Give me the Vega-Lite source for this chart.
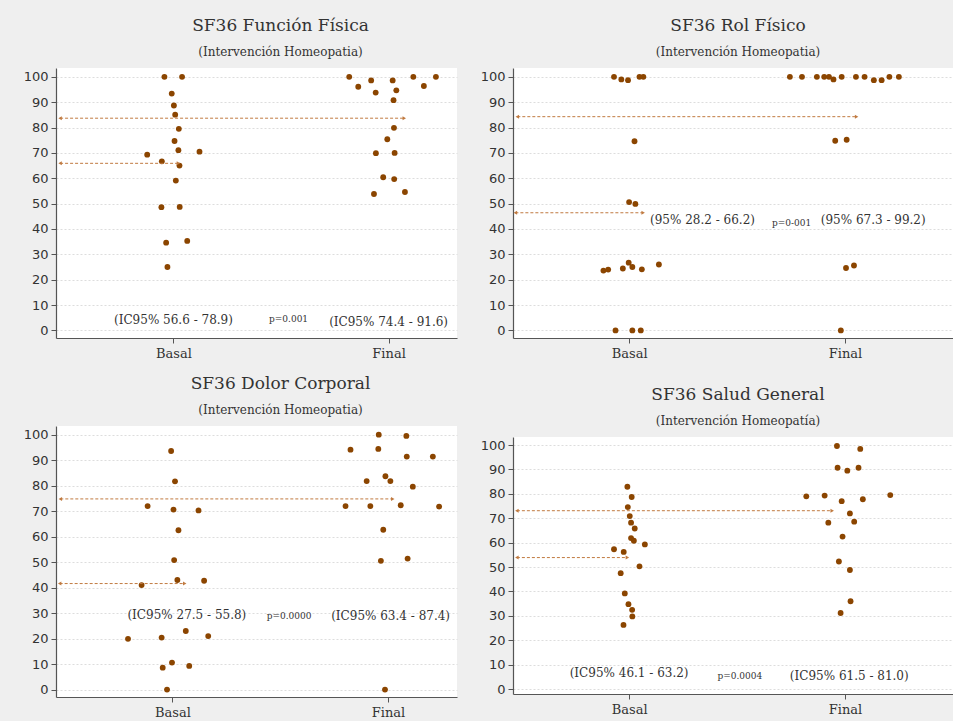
{
  "$schema": "https://vega.github.io/schema/vega-lite/v6.json",
  "background": "#efefef",
  "padding": {"left": 23, "top": 17, "right": 0, "bottom": 0},
  "config": {
    "view": {"fill": "white", "stroke": null},
    "axis": {"domainColor": "#555555", "tickColor": "#555555", "labelColor": "#333333", "tickSize": 5, "domainWidth": 1.2},
    "axisY": {"labelFont": "DejaVu Sans", "labelFontSize": 13, "gridDash": [2, 2], "gridColor": "#dddddd", "minExtent": 32, "maxExtent": 32, "labelPadding": 3},
    "axisX": {"grid": false, "labelFont": "DejaVu Serif", "labelFontSize": 13, "minExtent": 25, "maxExtent": 25, "labelPadding": 4},
    "title": {"font": "DejaVu Serif", "fontSize": 17, "fontWeight": "normal", "color": "#333333", "subtitleFont": "DejaVu Serif", "subtitleFontSize": 12, "subtitleColor": "#333333", "subtitlePadding": 12, "offset": 9}
  },
  "datasets": {
    "points": [
      {"p":"FF","g":"Basal","x":0.958,"y":100},{"p":"FF","g":"Basal","x":1.040,"y":100},{"p":"FF","g":"Basal","x":0.992,"y":93.4},{"p":"FF","g":"Basal","x":1.002,"y":88.7},{"p":"FF","g":"Basal","x":1.008,"y":85.1},{"p":"FF","g":"Basal","x":1.025,"y":79.5},{"p":"FF","g":"Basal","x":1.005,"y":74.7},{"p":"FF","g":"Basal","x":1.023,"y":71.1},{"p":"FF","g":"Basal","x":1.121,"y":70.5},{"p":"FF","g":"Basal","x":0.878,"y":69.3},{"p":"FF","g":"Basal","x":0.946,"y":66.7},{"p":"FF","g":"Basal","x":1.028,"y":65.0},{"p":"FF","g":"Basal","x":1.011,"y":59.1},{"p":"FF","g":"Basal","x":0.944,"y":48.6},{"p":"FF","g":"Basal","x":1.029,"y":48.7},{"p":"FF","g":"Basal","x":0.966,"y":34.6},{"p":"FF","g":"Basal","x":1.064,"y":35.3},{"p":"FF","g":"Basal","x":0.972,"y":25.0},
      {"p":"FF","g":"Final","x":1.817,"y":100},{"p":"FF","g":"Final","x":1.859,"y":96.1},{"p":"FF","g":"Final","x":1.919,"y":98.6},{"p":"FF","g":"Final","x":1.940,"y":93.8},{"p":"FF","g":"Final","x":2.019,"y":98.6},{"p":"FF","g":"Final","x":2.036,"y":94.7},{"p":"FF","g":"Final","x":2.023,"y":90.8},{"p":"FF","g":"Final","x":2.115,"y":100},{"p":"FF","g":"Final","x":2.164,"y":96.4},{"p":"FF","g":"Final","x":2.220,"y":100},{"p":"FF","g":"Final","x":2.025,"y":79.9},{"p":"FF","g":"Final","x":1.994,"y":75.4},{"p":"FF","g":"Final","x":1.941,"y":69.9},{"p":"FF","g":"Final","x":2.028,"y":70.0},{"p":"FF","g":"Final","x":1.975,"y":60.4},{"p":"FF","g":"Final","x":2.026,"y":59.7},{"p":"FF","g":"Final","x":1.932,"y":53.8},{"p":"FF","g":"Final","x":2.076,"y":54.6},
      {"p":"RF","g":"Basal","x":0.930,"y":100},{"p":"RF","g":"Basal","x":0.964,"y":99},{"p":"RF","g":"Basal","x":0.995,"y":98.7},{"p":"RF","g":"Basal","x":1.048,"y":100},{"p":"RF","g":"Basal","x":1.066,"y":100},{"p":"RF","g":"Basal","x":1.025,"y":74.6},{"p":"RF","g":"Basal","x":1.0,"y":50.6},{"p":"RF","g":"Basal","x":1.029,"y":49.9},{"p":"RF","g":"Basal","x":0.881,"y":23.6},{"p":"RF","g":"Basal","x":0.903,"y":24.0},{"p":"RF","g":"Basal","x":0.971,"y":24.4},{"p":"RF","g":"Basal","x":0.998,"y":26.7},{"p":"RF","g":"Basal","x":1.015,"y":25.0},{"p":"RF","g":"Basal","x":1.059,"y":24.1},{"p":"RF","g":"Basal","x":1.138,"y":26.0},{"p":"RF","g":"Basal","x":0.937,"y":0},{"p":"RF","g":"Basal","x":1.015,"y":0},{"p":"RF","g":"Basal","x":1.054,"y":0},
      {"p":"RF","g":"Final","x":1.745,"y":100},{"p":"RF","g":"Final","x":1.801,"y":100},{"p":"RF","g":"Final","x":1.870,"y":100},{"p":"RF","g":"Final","x":1.904,"y":100},{"p":"RF","g":"Final","x":1.926,"y":100},{"p":"RF","g":"Final","x":1.947,"y":99},{"p":"RF","g":"Final","x":1.985,"y":100},{"p":"RF","g":"Final","x":2.051,"y":100},{"p":"RF","g":"Final","x":2.091,"y":100},{"p":"RF","g":"Final","x":2.134,"y":98.7},{"p":"RF","g":"Final","x":2.170,"y":98.7},{"p":"RF","g":"Final","x":2.206,"y":100},{"p":"RF","g":"Final","x":2.250,"y":100},{"p":"RF","g":"Final","x":1.955,"y":74.8},{"p":"RF","g":"Final","x":2.008,"y":75.2},{"p":"RF","g":"Final","x":2.005,"y":24.6},{"p":"RF","g":"Final","x":2.042,"y":25.6},{"p":"RF","g":"Final","x":1.981,"y":0},
      {"p":"DC","g":"Basal","x":0.994,"y":93.6},{"p":"DC","g":"Basal","x":1.012,"y":81.7},{"p":"DC","g":"Basal","x":0.885,"y":72.0},{"p":"DC","g":"Basal","x":1.005,"y":70.6},{"p":"DC","g":"Basal","x":1.121,"y":70.3},{"p":"DC","g":"Basal","x":1.028,"y":62.5},{"p":"DC","g":"Basal","x":1.008,"y":50.8},{"p":"DC","g":"Basal","x":1.023,"y":43.0},{"p":"DC","g":"Basal","x":1.147,"y":42.7},{"p":"DC","g":"Basal","x":0.857,"y":41.0},{"p":"DC","g":"Basal","x":0.794,"y":19.9},{"p":"DC","g":"Basal","x":0.950,"y":20.4},{"p":"DC","g":"Basal","x":1.062,"y":23.0},{"p":"DC","g":"Basal","x":1.166,"y":21.0},{"p":"DC","g":"Basal","x":0.998,"y":10.6},{"p":"DC","g":"Basal","x":0.955,"y":8.6},{"p":"DC","g":"Basal","x":1.078,"y":9.3},{"p":"DC","g":"Basal","x":0.975,"y":0},
      {"p":"DC","g":"Final","x":1.957,"y":100},{"p":"DC","g":"Final","x":2.085,"y":99.5},{"p":"DC","g":"Final","x":1.826,"y":94.1},{"p":"DC","g":"Final","x":1.955,"y":94.4},{"p":"DC","g":"Final","x":2.087,"y":91.4},{"p":"DC","g":"Final","x":2.208,"y":91.4},{"p":"DC","g":"Final","x":1.901,"y":81.8},{"p":"DC","g":"Final","x":1.988,"y":83.7},{"p":"DC","g":"Final","x":2.011,"y":81.8},{"p":"DC","g":"Final","x":2.115,"y":79.6},{"p":"DC","g":"Final","x":1.803,"y":72.0},{"p":"DC","g":"Final","x":1.918,"y":72.0},{"p":"DC","g":"Final","x":2.059,"y":72.3},{"p":"DC","g":"Final","x":2.237,"y":71.8},{"p":"DC","g":"Final","x":1.978,"y":62.7},{"p":"DC","g":"Final","x":1.967,"y":50.5},{"p":"DC","g":"Final","x":2.091,"y":51.4},{"p":"DC","g":"Final","x":1.986,"y":0},
      {"p":"SG","g":"Basal","x":0.992,"y":82.9},{"p":"SG","g":"Basal","x":1.012,"y":78.7},{"p":"SG","g":"Basal","x":0.994,"y":74.6},{"p":"SG","g":"Basal","x":1.003,"y":70.9},{"p":"SG","g":"Basal","x":1.009,"y":68.2},{"p":"SG","g":"Basal","x":1.026,"y":65.8},{"p":"SG","g":"Basal","x":1.009,"y":61.9},{"p":"SG","g":"Basal","x":1.022,"y":60.8},{"p":"SG","g":"Basal","x":1.073,"y":59.3},{"p":"SG","g":"Basal","x":0.930,"y":57.3},{"p":"SG","g":"Basal","x":0.975,"y":56.2},{"p":"SG","g":"Basal","x":1.048,"y":50.3},{"p":"SG","g":"Basal","x":0.961,"y":47.5},{"p":"SG","g":"Basal","x":0.980,"y":39.2},{"p":"SG","g":"Basal","x":0.997,"y":34.8},{"p":"SG","g":"Basal","x":1.014,"y":32.5},{"p":"SG","g":"Basal","x":1.015,"y":29.8},{"p":"SG","g":"Basal","x":0.974,"y":26.3},
      {"p":"SG","g":"Final","x":1.963,"y":99.6},{"p":"SG","g":"Final","x":2.071,"y":98.4},{"p":"SG","g":"Final","x":1.966,"y":90.7},{"p":"SG","g":"Final","x":2.011,"y":89.5},{"p":"SG","g":"Final","x":2.063,"y":90.7},{"p":"SG","g":"Final","x":1.821,"y":79.0},{"p":"SG","g":"Final","x":1.906,"y":79.3},{"p":"SG","g":"Final","x":2.210,"y":79.5},{"p":"SG","g":"Final","x":2.083,"y":77.8},{"p":"SG","g":"Final","x":1.985,"y":77.0},{"p":"SG","g":"Final","x":2.023,"y":72.0},{"p":"SG","g":"Final","x":2.043,"y":68.6},{"p":"SG","g":"Final","x":1.923,"y":68.2},{"p":"SG","g":"Final","x":1.989,"y":62.5},{"p":"SG","g":"Final","x":1.972,"y":52.3},{"p":"SG","g":"Final","x":2.023,"y":48.8},{"p":"SG","g":"Final","x":2.026,"y":36.0},{"p":"SG","g":"Final","x":1.980,"y":31.2}
    ],
    "arrows": [
      {"p":"FF","y":83.7,"x1":0.473,"x2":2.073},{"p":"FF","y":65.9,"x1":0.473,"x2":1.023},
      {"p":"RF","y":84.3,"x1":0.482,"x2":2.054},{"p":"RF","y":46.4,"x1":0.473,"x2":1.065},
      {"p":"DC","y":74.8,"x1":0.480,"x2":2.022},{"p":"DC","y":41.6,"x1":0.477,"x2":1.057},
      {"p":"SG","y":73.1,"x1":0.480,"x2":1.941},{"p":"SG","y":53.9,"x1":0.480,"x2":0.992}
    ],
    "notes": [
      {"p":"FF","kind":"ic","x":1.0,"y":4.0,"label":"(IC95% 56.6 - 78.9)"},{"p":"FF","kind":"pv","x":1.535,"y":4.3,"label":"p=0.001"},{"p":"FF","kind":"ic","x":2.0,"y":3.2,"label":"(IC95% 74.4 - 91.6)"},
      {"p":"RF","kind":"ic","x":1.34,"y":43.7,"label":"(95% 28.2 - 66.2)"},{"p":"RF","kind":"pv","x":1.753,"y":42.4,"label":"p=0-001"},{"p":"RF","kind":"ic","x":2.131,"y":43.7,"label":"(95% 67.3 - 99.2)"},
      {"p":"DC","kind":"ic","x":1.067,"y":29.4,"label":"(IC95% 27.5 - 55.8)"},{"p":"DC","kind":"pv","x":1.541,"y":28.8,"label":"p=0.0000"},{"p":"DC","kind":"ic","x":2.012,"y":28.8,"label":"(IC95% 63.4 - 87.4)"},
      {"p":"SG","kind":"ic","x":1.0,"y":6.5,"label":"(IC95% 46.1 - 63.2)"},{"p":"SG","kind":"pv","x":1.513,"y":5.5,"label":"p=0.0004"},{"p":"SG","kind":"ic","x":2.02,"y":5.5,"label":"(IC95% 61.5 - 81.0)"}
    ]
  },
  "spacing": 23,
  "hconcat": [
    {
      "spacing": 12,
      "vconcat": [
        {
          "title": {"text": "SF36 Función Física", "subtitle": "(Intervención Homeopatia)", "dx": 24},
          "width": 401, "height": 270,
          "encoding": {
            "x": {"field": "x", "type": "quantitative", "title": null, "scale": {"domain": [0.454, 2.318], "nice": false, "zero": false}, "axis": {"values": [1, 2], "labelExpr": "datum.value == 1 ? 'Basal' : 'Final'"}},
            "y": {"field": "y", "type": "quantitative", "title": null, "scale": {"domain": [-3, 103.5], "nice": false, "zero": false}, "axis": {"values": [0,10,20,30,40,50,60,70,80,90,100]}}
          },
          "layer": [
            {"data": {"name": "points"}, "transform": [{"filter": "datum.p == 'FF'"}], "mark": {"type": "point", "shape": "circle", "filled": true, "size": 34, "color": "#8b4500", "opacity": 1}},
            {"data": {"name": "arrows"}, "transform": [{"filter": "datum.p == 'FF'"}], "mark": {"type": "rule", "strokeDash": [3, 2], "color": "#c07a40", "strokeWidth": 1}, "encoding": {"x": {"field": "x1", "type": "quantitative", "title": null}, "x2": {"field": "x2"}}},
            {"data": {"name": "arrows"}, "transform": [{"filter": "datum.p == 'FF'"}], "mark": {"type": "point", "shape": "triangle-left", "filled": true, "size": 16, "color": "#c07a40", "opacity": 1}, "encoding": {"x": {"field": "x1", "type": "quantitative", "title": null}}},
            {"data": {"name": "arrows"}, "transform": [{"filter": "datum.p == 'FF'"}], "mark": {"type": "point", "shape": "triangle-right", "filled": true, "size": 16, "color": "#c07a40", "opacity": 1}, "encoding": {"x": {"field": "x2", "type": "quantitative", "title": null}}},
            {"data": {"name": "notes"}, "transform": [{"filter": "datum.p == 'FF' && datum.kind == 'ic'"}], "mark": {"type": "text", "font": "DejaVu Serif", "fontSize": 12, "color": "#333333"}, "encoding": {"text": {"field": "label"}}},
            {"data": {"name": "notes"}, "transform": [{"filter": "datum.p == 'FF' && datum.kind == 'pv'"}], "mark": {"type": "text", "font": "DejaVu Serif", "fontSize": 9, "color": "#333333"}, "encoding": {"text": {"field": "label"}}}
          ]
        },
        {
          "title": {"text": "SF36 Dolor Corporal", "subtitle": "(Intervención Homeopatia)", "dx": 24},
          "width": 401, "height": 271,
          "encoding": {
            "x": {"field": "x", "type": "quantitative", "title": null, "scale": {"domain": [0.46, 2.32], "nice": false, "zero": false}, "axis": {"values": [1, 2], "labelExpr": "datum.value == 1 ? 'Basal' : 'Final'"}},
            "y": {"field": "y", "type": "quantitative", "title": null, "scale": {"domain": [-2.9, 103.4], "nice": false, "zero": false}, "axis": {"values": [0,10,20,30,40,50,60,70,80,90,100]}}
          },
          "layer": [
            {"data": {"name": "points"}, "transform": [{"filter": "datum.p == 'DC'"}], "mark": {"type": "point", "shape": "circle", "filled": true, "size": 34, "color": "#8b4500", "opacity": 1}},
            {"data": {"name": "arrows"}, "transform": [{"filter": "datum.p == 'DC'"}], "mark": {"type": "rule", "strokeDash": [3, 2], "color": "#c07a40", "strokeWidth": 1}, "encoding": {"x": {"field": "x1", "type": "quantitative", "title": null}, "x2": {"field": "x2"}}},
            {"data": {"name": "arrows"}, "transform": [{"filter": "datum.p == 'DC'"}], "mark": {"type": "point", "shape": "triangle-left", "filled": true, "size": 16, "color": "#c07a40", "opacity": 1}, "encoding": {"x": {"field": "x1", "type": "quantitative", "title": null}}},
            {"data": {"name": "arrows"}, "transform": [{"filter": "datum.p == 'DC'"}], "mark": {"type": "point", "shape": "triangle-right", "filled": true, "size": 16, "color": "#c07a40", "opacity": 1}, "encoding": {"x": {"field": "x2", "type": "quantitative", "title": null}}},
            {"data": {"name": "notes"}, "transform": [{"filter": "datum.p == 'DC' && datum.kind == 'ic'"}], "mark": {"type": "text", "font": "DejaVu Serif", "fontSize": 12, "color": "#333333"}, "encoding": {"text": {"field": "label"}}},
            {"data": {"name": "notes"}, "transform": [{"filter": "datum.p == 'DC' && datum.kind == 'pv'"}], "mark": {"type": "text", "font": "DejaVu Serif", "fontSize": 9, "color": "#333333"}, "encoding": {"text": {"field": "label"}}}
          ]
        }
      ]
    },
    {
      "spacing": 23,
      "vconcat": [
        {
          "title": {"text": "SF36 Rol Físico", "subtitle": "(Intervención Homeopatia)", "dx": 4},
          "width": 442, "height": 270,
          "encoding": {
            "x": {"field": "x", "type": "quantitative", "title": null, "scale": {"domain": [0.462, 2.51], "nice": false, "zero": false}, "axis": {"values": [1, 2], "labelExpr": "datum.value == 1 ? 'Basal' : 'Final'"}},
            "y": {"field": "y", "type": "quantitative", "title": null, "scale": {"domain": [-3, 103.5], "nice": false, "zero": false}, "axis": {"values": [0,10,20,30,40,50,60,70,80,90,100]}}
          },
          "layer": [
            {"data": {"name": "points"}, "transform": [{"filter": "datum.p == 'RF'"}], "mark": {"type": "point", "shape": "circle", "filled": true, "size": 34, "color": "#8b4500", "opacity": 1}},
            {"data": {"name": "arrows"}, "transform": [{"filter": "datum.p == 'RF'"}], "mark": {"type": "rule", "strokeDash": [3, 2], "color": "#c07a40", "strokeWidth": 1}, "encoding": {"x": {"field": "x1", "type": "quantitative", "title": null}, "x2": {"field": "x2"}}},
            {"data": {"name": "arrows"}, "transform": [{"filter": "datum.p == 'RF'"}], "mark": {"type": "point", "shape": "triangle-left", "filled": true, "size": 16, "color": "#c07a40", "opacity": 1}, "encoding": {"x": {"field": "x1", "type": "quantitative", "title": null}}},
            {"data": {"name": "arrows"}, "transform": [{"filter": "datum.p == 'RF'"}], "mark": {"type": "point", "shape": "triangle-right", "filled": true, "size": 16, "color": "#c07a40", "opacity": 1}, "encoding": {"x": {"field": "x2", "type": "quantitative", "title": null}}},
            {"data": {"name": "notes"}, "transform": [{"filter": "datum.p == 'RF' && datum.kind == 'ic'"}], "mark": {"type": "text", "font": "DejaVu Serif", "fontSize": 12, "color": "#333333"}, "encoding": {"text": {"field": "label"}}},
            {"data": {"name": "notes"}, "transform": [{"filter": "datum.p == 'RF' && datum.kind == 'pv'"}], "mark": {"type": "text", "font": "DejaVu Serif", "fontSize": 9, "color": "#333333"}, "encoding": {"text": {"field": "label"}}}
          ]
        },
        {
          "title": {"text": "SF36 Salud General", "subtitle": "(Intervención Homeopatía)", "dx": 4},
          "width": 442, "height": 257,
          "encoding": {
            "x": {"field": "x", "type": "quantitative", "title": null, "scale": {"domain": [0.462, 2.51], "nice": false, "zero": false}, "axis": {"values": [1, 2], "labelExpr": "datum.value == 1 ? 'Basal' : 'Final'"}},
            "y": {"field": "y", "type": "quantitative", "title": null, "scale": {"domain": [-2, 103.3], "nice": false, "zero": false}, "axis": {"values": [0,10,20,30,40,50,60,70,80,90,100]}}
          },
          "layer": [
            {"data": {"name": "points"}, "transform": [{"filter": "datum.p == 'SG'"}], "mark": {"type": "point", "shape": "circle", "filled": true, "size": 34, "color": "#8b4500", "opacity": 1}},
            {"data": {"name": "arrows"}, "transform": [{"filter": "datum.p == 'SG'"}], "mark": {"type": "rule", "strokeDash": [3, 2], "color": "#c07a40", "strokeWidth": 1}, "encoding": {"x": {"field": "x1", "type": "quantitative", "title": null}, "x2": {"field": "x2"}}},
            {"data": {"name": "arrows"}, "transform": [{"filter": "datum.p == 'SG'"}], "mark": {"type": "point", "shape": "triangle-left", "filled": true, "size": 16, "color": "#c07a40", "opacity": 1}, "encoding": {"x": {"field": "x1", "type": "quantitative", "title": null}}},
            {"data": {"name": "arrows"}, "transform": [{"filter": "datum.p == 'SG'"}], "mark": {"type": "point", "shape": "triangle-right", "filled": true, "size": 16, "color": "#c07a40", "opacity": 1}, "encoding": {"x": {"field": "x2", "type": "quantitative", "title": null}}},
            {"data": {"name": "notes"}, "transform": [{"filter": "datum.p == 'SG' && datum.kind == 'ic'"}], "mark": {"type": "text", "font": "DejaVu Serif", "fontSize": 12, "color": "#333333"}, "encoding": {"text": {"field": "label"}}},
            {"data": {"name": "notes"}, "transform": [{"filter": "datum.p == 'SG' && datum.kind == 'pv'"}], "mark": {"type": "text", "font": "DejaVu Serif", "fontSize": 9, "color": "#333333"}, "encoding": {"text": {"field": "label"}}}
          ]
        }
      ]
    }
  ]
}
